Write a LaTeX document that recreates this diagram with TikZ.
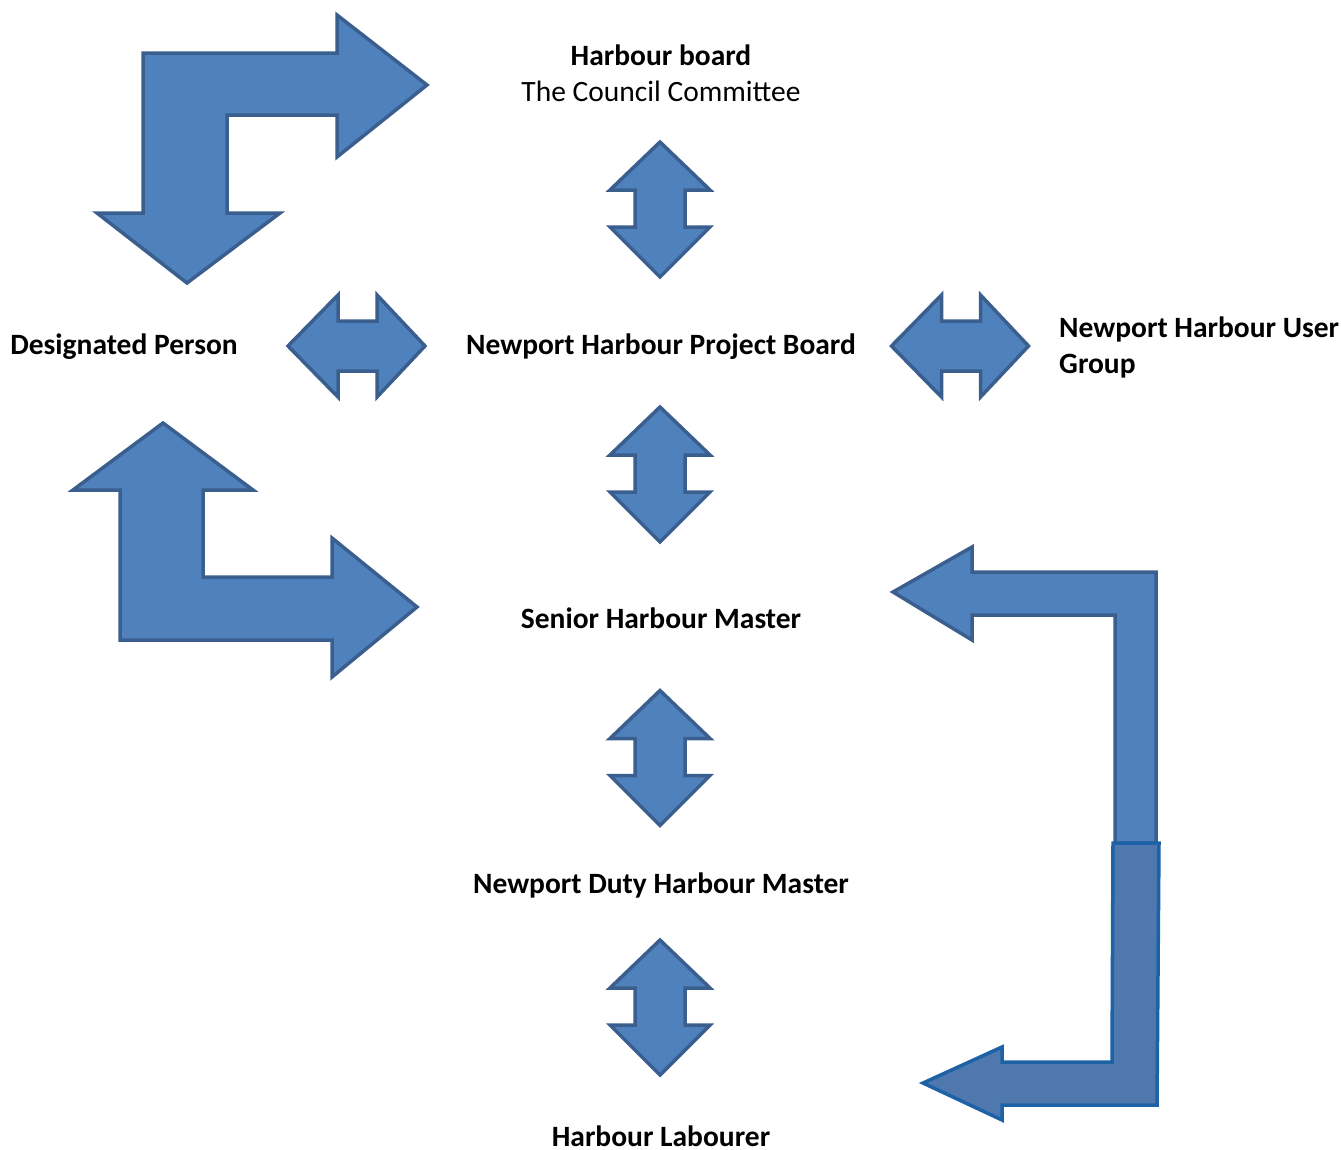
\documentclass[tikz,border=0pt]{standalone}
\usepackage{fontspec}
\setmainfont{Carlito}
\definecolor{afill}{HTML}{4F81BD}
\definecolor{aline}{HTML}{3A5F8F}
\definecolor{bfill}{HTML}{4F78AE}
\definecolor{bline}{HTML}{1D62A6}
\tikzset{
  blockarrow/.style={fill=afill, draw=aline, line width=3.5pt, line join=miter},
  blockarrowb/.style={fill=bfill, draw=bline, line width=3.5pt, line join=miter},
  lbl/.style={inner sep=0pt, font=\fontsize{29.5}{36}\selectfont\bfseries},
  vdarr/.pic={\draw[blockarrow] (0,-67.5) -- (50,-19.5) -- (25,-19.5) -- (25,17.5) -- (50,17.5) -- (0,67.5) -- (-50,17.5) -- (-25,17.5) -- (-25,-19.5) -- (-50,-19.5) -- cycle;},
  hdarr/.pic={\draw[blockarrow] (-68.5,0) -- (-18.5,-51) -- (-18.5,-25) -- (20.5,-25) -- (20.5,-51) -- (68.5,0) -- (20.5,51) -- (20.5,25) -- (-18.5,25) -- (-18.5,51) -- cycle;}
}
\begin{document}
\begin{tikzpicture}[x=1pt,y=-1pt]
\useasboundingbox (0,0) rectangle (1341,1149);
% text nodes
\node[lbl] (hb) at (661,55) {Harbour board};
\node[lbl, font=\fontsize{29.5}{36}\selectfont] (cc) at (661,91) {The Council Committee};
\node[lbl] (dp) at (124,347) {Designated Person};
\node[lbl] (pb) at (661,347) {Newport Harbour Project Board};
\node[lbl, anchor=west, align=left] (ug) at (1059,347) {Newport Harbour User\\Group};
\node[lbl] (sh) at (661,618) {Senior Harbour Master};
\node[lbl] (dh) at (661,885) {Newport Duty Harbour Master};
\node[lbl] (hl) at (661,1136) {Harbour Labourer};
% vertical double arrows
\pic at (660,209.5) {vdarr};
\pic at (660,474.5) {vdarr};
\pic at (660,758) {vdarr};
\pic at (660,1007.5) {vdarr};
% horizontal double arrows
\pic at (356.5,346) {hdarr};
\pic at (960,346) {hdarr};
% top-left bent arrow
\draw[blockarrow] (143,53) -- (337,53) -- (337,15) -- (427,85) -- (337,157) -- (337,115) -- (227,115) -- (227,213) -- (280,213) -- (187,283) -- (97,213) -- (143,213) -- cycle;
% bottom-left bent arrow
\draw[blockarrow] (163,423) -- (253,490) -- (203,490) -- (203,577) -- (332,577) -- (332,538) -- (417,607) -- (332,677) -- (332,640) -- (120,640) -- (120,490) -- (73,490) -- cycle;
% right bracket arrow, upper part
\draw[blockarrow] (893,592) -- (972,547) -- (972,572) -- (1156,572) -- (1156,843) -- (1115,843) -- (1115,615) -- (972,615) -- (972,640) -- cycle;
% right bracket arrow, lower part
\draw[blockarrowb] (1113,843) -- (1159,843) -- (1157,1105) -- (1002,1105) -- (1002,1120) -- (923,1083) -- (1002,1047) -- (1002,1062) -- (1112,1062) -- cycle;
\end{tikzpicture}
\end{document}
